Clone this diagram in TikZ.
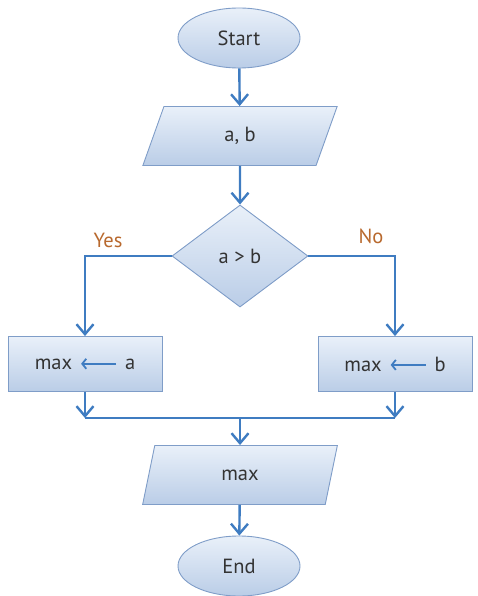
\documentclass[tikz,border=0pt]{standalone}
\usepackage{fontspec}
\setmainfont{PT Sans}
\usetikzlibrary{shapes.geometric,arrows.meta}
\definecolor{lineblue}{HTML}{3F7CC1}
\definecolor{edgec}{HTML}{7F9DC8}
\definecolor{topc}{HTML}{E9F0F9}
\definecolor{botc}{HTML}{BACDE7}
\definecolor{txt}{HTML}{333333}
\definecolor{yn}{HTML}{B8692E}
\begin{document}
\begin{tikzpicture}[x=1pt,y=-1pt,
  shp/.style={draw=edgec, line width=0.9pt, top color=topc, bottom color=botc, text=txt,
    font=\fontsize{20.5}{24}\selectfont, inner sep=0pt},
  term/.style={shp, ellipse, minimum width=122pt, minimum height=60pt},
  io/.style={shp, trapezium, trapezium left angle=76, trapezium right angle=104,
    trapezium stretches=true, minimum width=195pt, minimum height=59pt},
  dec/.style={shp, diamond, minimum width=136pt, minimum height=102pt},
  proc/.style={shp, rectangle, minimum width=154pt, minimum height=55pt},
  conn/.style={draw=lineblue, line width=2.4pt, -{Straight Barb[length=10pt,width=17pt,line width=2.4pt]}},
  plain/.style={draw=lineblue, line width=2.4pt},
  lbl/.style={text=yn, font=\fontsize{20.5}{24}\selectfont}
]
\useasboundingbox (0,0) rectangle (477,596);
\node[term] (start) at (239,38) {Start};
\node[io] (ab) at (240,136) {a, b};
\node[dec] (cmp) at (240,256) {a > b};
\node[proc] (ya) at (85,364) {max\hspace{8pt}\tikz[baseline=-0.6ex]\draw[lineblue, line width=1.8pt, -{Straight Barb[length=4pt,width=10pt,line width=1.8pt]}] (35pt,0) -- (0,0);\hspace{8pt}a};
\node[proc] (nb) at (395,364) {max\hspace{8pt}\tikz[baseline=-0.6ex]\draw[lineblue, line width=1.8pt, -{Straight Barb[length=4pt,width=10pt,line width=1.8pt]}] (35pt,0) -- (0,0);\hspace{8pt}b};
\node[io] (out) at (240,475) {max};
\node[term] (end) at (239,566) {End};
\node[lbl] (yes) at (108,240) {Yes};
\node[lbl] (no) at (371,236) {No};
\coordinate (cl) at (85,256);
\coordinate (cr) at (395,256);
\coordinate (jl) at (85,418);
\coordinate (jr) at (395,418);
\coordinate (jm) at (240,418);
\draw[conn] (start) -- (ab);
\draw[conn] (ab) -- (cmp);
\draw[conn] (cmp.west) -- (cl) -- (ya.north);
\draw[conn] (cmp.east) -- (cr) -- (nb.north);
\draw[conn] (ya.south) -- (jl);
\draw[conn] (nb.south) -- (jr);
\draw[plain] (jl) -- (jr);
\draw[conn] (jm) -- (out);
\draw[conn] (out) -- (end);
\end{tikzpicture}
\end{document}
